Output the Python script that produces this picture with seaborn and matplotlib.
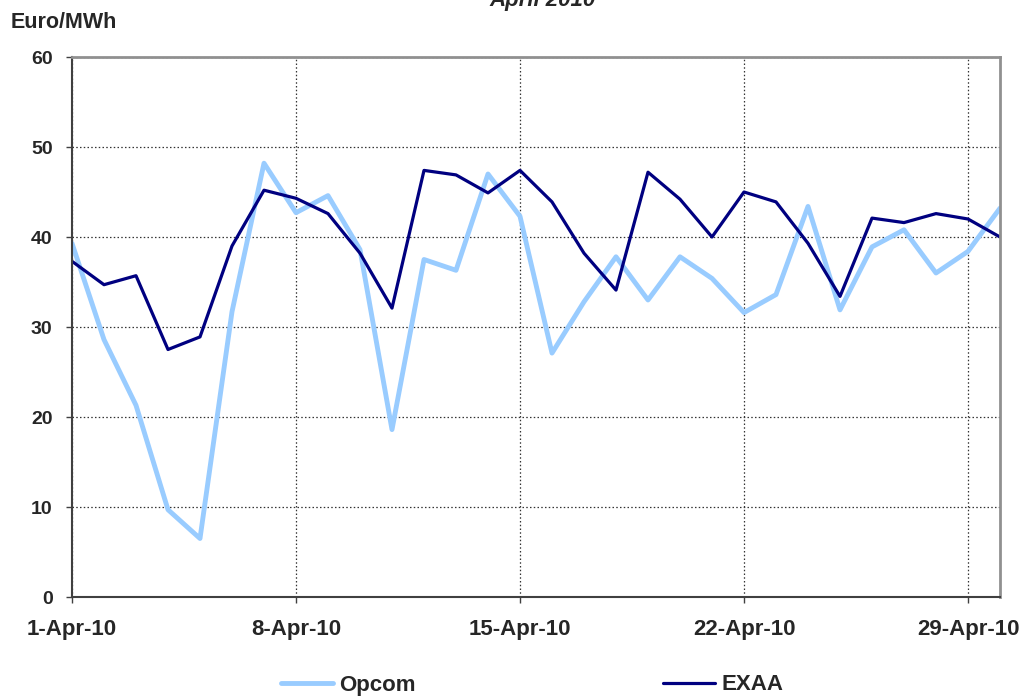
import pandas as pd
import matplotlib.pyplot as plt
import seaborn as sns
import numpy as np


# daily prices, April 2010 (Euro/MWh)
days = list(range(1, 31))
opcom = [39.3, 28.6, 21.3, 9.7, 6.5, 31.7, 48.2, 42.7, 44.6, 38.6,
         18.6, 37.5, 36.3, 47.0, 42.3, 27.1, 32.8, 37.8, 33.0, 37.8,
         35.4, 31.6, 33.6, 43.4, 31.9, 38.9, 40.8, 36.0, 38.4, 43.2]
exaa = [37.3, 34.7, 35.7, 27.5, 28.9, 39.0, 45.2, 44.3, 42.6, 38.2,
        32.1, 47.4, 46.9, 44.9, 47.4, 43.9, 38.2, 34.1, 47.2, 44.2,
        40.0, 45.0, 43.9, 39.3, 33.4, 42.1, 41.6, 42.6, 42.0, 40.0]
tick_days = [1, 8, 15, 22, 29]
tick_labels = ["1-Apr-10", "8-Apr-10", "15-Apr-10", "22-Apr-10", "29-Apr-10"]

df = pd.DataFrame({"day": days, "Opcom": opcom, "EXAA": exaa})

sns.set_style("white")
plt.rcParams['font.family'] = ['Liberation Sans', 'DejaVu Sans']
plt.rcParams['font.weight'] = 'bold'

fig = plt.figure(figsize=(10.26, 6.96), dpi=100)
ax = fig.add_axes([72/1026, 1-597/696, 928/1026, 540/696])

sns.lineplot(data=df, x="day", y="Opcom", color="#99ccff", linewidth=3.5,
             ax=ax, label="Opcom")
sns.lineplot(data=df, x="day", y="EXAA", color="#000080", linewidth=2.3,
             ax=ax, label="EXAA")

ax.set_xlim(1, 30)
ax.set_ylim(0, 60)
ax.set_xticks(tick_days)
ax.set_xticklabels(tick_labels, fontsize=16, fontweight='bold')
ax.set_yticks(np.arange(0, 61, 10))
ax.set_yticklabels([str(v) for v in range(0, 61, 10)], fontsize=14, fontweight='bold')
ax.set_xlabel("")
ax.set_ylabel("")

ax.grid(True, linestyle=(0, (1.2, 1.8)), color="#333333", linewidth=0.9)
ax.tick_params(axis='y', direction='out', length=4, width=1, color="#404040", pad=10, left=True)
ax.tick_params(axis='x', direction='out', length=4, width=1, color="#404040", pad=12, bottom=True)

for s in ["left", "bottom"]:
    ax.spines[s].set_color("#404040")
    ax.spines[s].set_linewidth(1.5)
for s in ["top", "right"]:
    ax.spines[s].set_color("#909090")
    ax.spines[s].set_linewidth(2)

ax.get_legend().remove()
handles, labels = ax.get_legend_handles_labels()
fig.legend(handles, labels, loc='center', bbox_to_anchor=(532/1026, 1-685/696),
           ncol=2, frameon=False, handlelength=2.35, handletextpad=0.3,
           columnspacing=11.1, prop={'size': 16, 'weight': 'bold'})

fig.text(11/1026, 1-22/696, "Euro/MWh", fontsize=15.5, fontweight='bold', va='center')
fig.text(543/1026, 1-6/696, "April 2010", fontsize=16, fontweight='bold',
         style='italic', ha='center', va='baseline')

fig.savefig("out.png", dpi=100)
